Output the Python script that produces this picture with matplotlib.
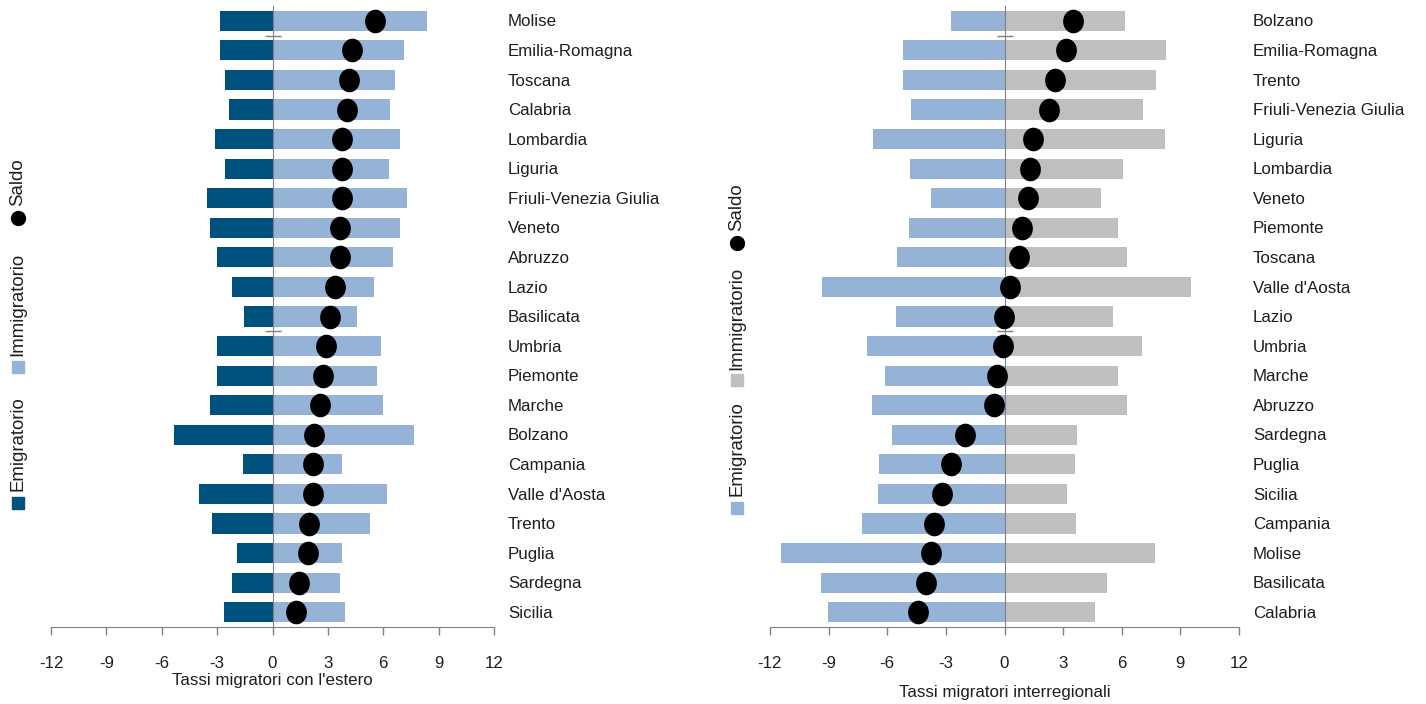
import matplotlib
matplotlib.use("Agg")
import matplotlib.pyplot as plt
import matplotlib.font_manager as fm
from matplotlib.lines import Line2D
from matplotlib.path import Path
import matplotlib.transforms as mtransforms
import numpy as np

# ---------------- data ----------------
regions_estero = ["Molise", "Emilia-Romagna", "Toscana", "Calabria", "Lombardia", "Liguria",
                  "Friuli-Venezia Giulia", "Veneto", "Abruzzo", "Lazio", "Basilicata", "Umbria",
                  "Piemonte", "Marche", "Bolzano", "Campania", "Valle d'Aosta", "Trento",
                  "Puglia", "Sardegna", "Sicilia"]
emig_estero = [-2.82, -2.82, -2.55, -2.33, -3.09, -2.55, -3.57, -3.36, -2.98, -2.22, -1.52, -2.98,
               -2.98, -3.36, -5.36, -1.62, -4.00, -3.30, -1.90, -2.22, -2.64]
immig_estero = [8.39, 7.15, 6.66, 6.39, 6.93, 6.33, 7.31, 6.93, 6.55, 5.52, 4.60, 5.90,
                5.68, 5.96, 7.69, 3.79, 6.23, 5.30, 3.79, 3.68, 3.92]
saldo_estero = [5.58, 4.33, 4.17, 4.06, 3.79, 3.74, 3.74, 3.63, 3.63, 3.36, 3.14, 2.92,
                2.71, 2.60, 2.27, 2.22, 2.17, 2.00, 1.95, 1.41, 1.30]

regions_inter = ["Bolzano", "Emilia-Romagna", "Trento", "Friuli-Venezia Giulia", "Liguria",
                 "Lombardia", "Veneto", "Piemonte", "Toscana", "Valle d'Aosta", "Lazio", "Umbria",
                 "Marche", "Abruzzo", "Sardegna", "Puglia", "Sicilia", "Campania", "Molise",
                 "Basilicata", "Calabria"]
emig_inter = [-2.76, -5.21, -5.21, -4.81, -6.75, -4.86, -3.78, -4.91, -5.52, -9.36, -5.57, -7.06,
              -6.13, -6.80, -5.78, -6.44, -6.49, -7.31, -11.45, -9.41, -9.03]
immig_inter = [6.19, 8.28, 7.77, 7.11, 8.23, 6.08, 4.96, 5.83, 6.29, 9.56, 5.57, 7.06,
               5.83, 6.29, 3.73, 3.63, 3.22, 3.68, 7.72, 5.27, 4.62]
saldo_inter = [3.48, 3.17, 2.60, 2.30, 1.48, 1.28, 1.18, 0.92, 0.72, 0.26, -0.05, -0.10,
               -0.36, -0.56, -2.04, -2.76, -3.22, -3.63, -3.78, -4.04, -4.43]

xticks = [-12, -9, -6, -3, 0, 3, 6, 9, 12]
xlabel_estero = "Tassi migratori con l'estero"
xlabel_inter = "Tassi migratori interregionali"
legend_labels = ["Emigratorio", "Immigratorio", "Saldo"]

# ---------------- style ----------------
names = {f.name for f in fm.fontManager.ttflist}
if "Liberation Sans Narrow" in names:
    FONT, SC = "Liberation Sans Narrow", 1.0
else:
    FONT, SC = "Liberation Sans", 0.84
plt.rcParams["font.family"] = [FONT, "DejaVu Sans"]

DARK = "#00527e"
LIGHT = "#95b3d7"
GREY = "#bfbfbf"
AXC = "#808080"
TXT = "#1e1e1e"

W, H = 1426, 704
fig = plt.figure(figsize=(W / 100, H / 100), dpi=100)


def fx(px):
    return px / W


def fy(py):
    return 1 - py / H


# elliptical marker (slightly taller than wide)
t = np.linspace(0, 2 * np.pi, 80)
ell = Path(np.column_stack([0.87 * np.cos(t), np.sin(t)]), closed=True)


def rect_center(rect):
    return (rect[0] + rect[2] / 2) * W


def panel(rect, regions, emig, immig, saldo, cemig, cimmig, label_x, xlabel, xlabel_y):
    ax = fig.add_axes(rect)
    n = len(regions)
    y = np.arange(n)
    ax.barh(y, emig, height=0.68, color=cemig, zorder=2)
    ax.barh(y, immig, height=0.68, color=cimmig, zorder=2)
    ax.plot(saldo, y, linestyle="none", marker=ell, markersize=16, color="black", zorder=4)
    ax.set_xlim(-12, 12)
    ax.set_ylim(n - 0.5, -0.5)
    for s in ["top", "right"]:
        ax.spines[s].set_visible(False)
    ax.spines["bottom"].set_color(AXC)
    ax.spines["left"].set_position(("data", 0))
    ax.spines["left"].set_color(AXC)
    ax.spines["left"].set_zorder(3)
    ax.set_xticks(xticks)
    ax.set_xticklabels([str(v) for v in xticks])
    ax.tick_params(axis="x", colors=AXC, length=6, width=1, pad=15,
                   labelsize=14.5 * SC, labelcolor=TXT)
    ax.set_yticks([0.5, 10.5])
    ax.set_yticklabels([])
    ax.tick_params(axis="y", direction="inout", length=12, color=AXC, width=1)
    trans = mtransforms.blended_transform_factory(fig.transFigure, ax.transData)
    for i, r in enumerate(regions):
        ax.text(fx(label_x), i + 0.04, r, transform=trans, ha="left", va="center",
                fontsize=14.5 * SC, color=TXT, clip_on=False)
    fig.text(fx(rect_center(rect)), fy(xlabel_y), xlabel, ha="center", va="top",
             fontsize=14.5 * SC, color=TXT)
    return ax


def legend(x, items):
    for (mk, col, my, txt, ty) in items:
        fig.add_artist(Line2D([fx(x)], [fy(my)], transform=fig.transFigure, marker=mk,
                              markersize=(8 if mk == "s" else 10), color=col, linestyle="none"))
        fig.text(fx(x), fy(ty), txt, rotation=90, ha="center", va="bottom",
                 fontsize=16 * SC, color=TXT)


left_rect = [fx(51), fy(627), fx(494) - fx(51), (627 - 6) / H]
right_rect = [fx(770), fy(627), fx(1239) - fx(770), (627 - 6) / H]

panel(left_rect, regions_estero, emig_estero, immig_estero, saldo_estero, DARK, LIGHT,
      508, xlabel_estero, 673)
panel(right_rect, regions_inter, emig_inter, immig_inter, saldo_inter, LIGHT, GREY,
      1253, xlabel_inter, 685)

legend(18, [("s", DARK, 503, legend_labels[0], 491),
            ("s", LIGHT, 367, legend_labels[1], 356),
            ("o", "black", 218, legend_labels[2], 206)])
legend(737, [("s", LIGHT, 508, legend_labels[0], 496),
             ("s", GREY, 380, legend_labels[1], 370),
             ("o", "black", 243, legend_labels[2], 231)])

fig.savefig("out.png", dpi=100)
